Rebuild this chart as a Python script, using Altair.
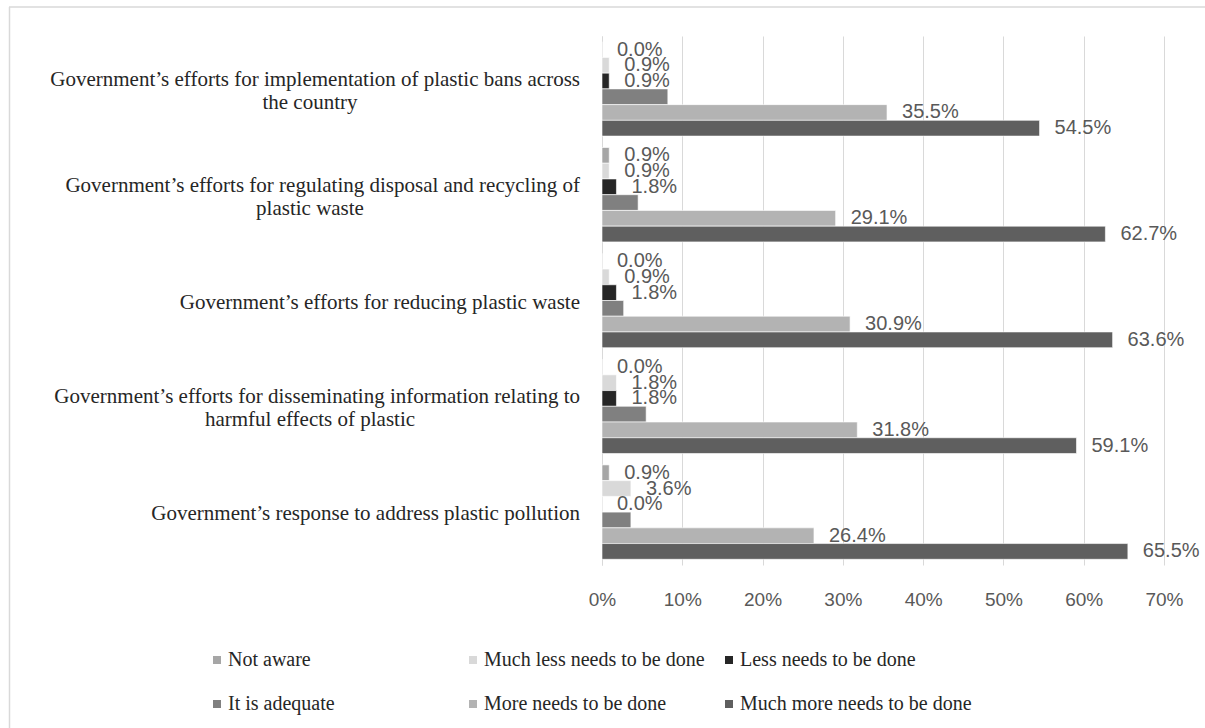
import altair as alt
import pandas as pd

questions = [
    "Government’s efforts for implementation of plastic bans across the country",
    "Government’s efforts for regulating disposal and recycling of plastic waste",
    "Government’s efforts for reducing plastic waste",
    "Government’s efforts for disseminating information relating to harmful effects of plastic",
    "Government’s response to address plastic pollution",
]
question_line1 = [
    "Government’s efforts for implementation of plastic bans across",
    "Government’s efforts for regulating disposal and recycling of",
    "Government’s efforts for reducing plastic waste",
    "Government’s efforts for disseminating information relating to",
    "Government’s response to address plastic pollution",
]
question_line2 = ["the country", "plastic waste", "", "harmful effects of plastic", ""]

responses = [
    "Not aware",
    "Much less needs to be done",
    "Less needs to be done",
    "It is adequate",
    "More needs to be done",
    "Much more needs to be done",
]
colors = ["#A6A6A6", "#D9D9D9", "#262626", "#808080", "#B3B3B3", "#5F5F5F"]

# percentages per question (same order as questions)
not_aware = [0.0, 0.9, 0.0, 0.0, 0.9]
much_less = [0.9, 0.9, 0.9, 1.8, 3.6]
less_needed = [0.9, 1.8, 1.8, 1.8, 0.0]
adequate = [8.2, 4.5, 2.7, 5.5, 3.6]
more_needed = [35.5, 29.1, 30.9, 31.8, 26.4]
much_more = [54.5, 62.7, 63.6, 59.1, 65.5]
series = [not_aware, much_less, less_needed, adequate, more_needed, much_more]
labelled = [True, True, True, False, True, True]

rows = []
for qi, q in enumerate(questions):
    for ri, r in enumerate(responses):
        v = series[ri][qi] / 100.0
        rows.append({
            "question": q,
            "response": r,
            "value": v,
            "label": f"{series[ri][qi]:.1f}%" if labelled[ri] else "",
        })
df = pd.DataFrame(rows)

qdf = pd.DataFrame({"question": questions, "line1": question_line1, "line2": question_line2})

GRID = "#D9D9D9"
SERIF = "Liberation Serif"
SANS = "Liberation Sans"
QSIZE = 21

y = alt.Y(
    "question:N",
    sort=questions,
    scale=alt.Scale(paddingInner=0.108, paddingOuter=0.054),
    axis=alt.Axis(labels=False, ticks=False, domain=True, domainColor=GRID,
                  grid=False, title=None),
)
yoff = alt.YOffset("response:N", sort=responses,
                   scale=alt.Scale(paddingInner=0, paddingOuter=0))
x = alt.X(
    "value:Q",
    scale=alt.Scale(domain=[0, 0.7], nice=False),
    axis=alt.Axis(values=[0, 0.1, 0.2, 0.3, 0.4, 0.5, 0.6, 0.7], format=".0%",
                  grid=True, gridColor=GRID, domain=False, ticks=False,
                  labelFont=SANS, labelFontSize=19, labelColor="#595959",
                  labelPadding=25, labelFlush=False, title=None),
)

bars = alt.Chart(df).mark_bar(stroke="white", strokeWidth=0.6).encode(
    y=y,
    yOffset=yoff,
    x=x,
    color=alt.Color(
        "response:N",
        sort=responses,
        scale=alt.Scale(domain=responses, range=colors),
        legend=alt.Legend(
            orient="none", legendX=-395, legendY=614, columns=3,
            direction="horizontal", title=None, symbolType="square",
            symbolSize=64, symbolStrokeWidth=0, labelFont=SERIF,
            labelFontSize=20, labelColor="#262626", columnPadding=3,
            rowPadding=24, gridAlign="all", labelOffset=1, padding=0,
            labelLimit=400,
        ),
    ),
)

value_labels = alt.Chart(df).transform_filter("datum.label != ''").mark_text(
    align="left", baseline="middle", dx=15, font=SANS, fontSize=20, color="#595959"
).encode(y=y, yOffset=yoff, x=alt.X("value:Q"), text="label:N")

single = alt.Chart(qdf).transform_filter("datum.line2 == ''").mark_text(
    align="right", baseline="middle", dy=2, font=SERIF, fontSize=QSIZE, color="#262626"
).encode(y=y, x=alt.value(-22), text="line1:N")

multi1 = alt.Chart(qdf).transform_filter("datum.line2 != ''").mark_text(
    align="right", baseline="middle", dy=-9, font=SERIF, fontSize=QSIZE, color="#262626"
).encode(y=y, x=alt.value(-22), text="line1:N")

multi2 = alt.Chart(qdf).transform_filter("datum.line2 != ''").mark_text(
    align="center", baseline="middle", dy=14, font=SERIF, fontSize=QSIZE, color="#262626"
).encode(y=y, x=alt.value(-292), text="line2:N")

frame = pd.DataFrame({"k": [0]})
frame_left = alt.Chart(frame).mark_rule(color=GRID, strokeWidth=1.5).encode(
    x=alt.value(-592.5), y=alt.value(-29), y2=alt.value(692))
frame_top = alt.Chart(frame).mark_rule(color=GRID, strokeWidth=1.5).encode(
    x=alt.value(-593), x2=alt.value(603), y=alt.value(-29))

chart = alt.layer(bars, value_labels, single, multi1, multi2, frame_left, frame_top).properties(
    width=562,
    height=529,
    autosize=alt.AutoSizeParams(type="none"),
    padding={"left": 602, "top": 36, "right": 41, "bottom": 163},
    background="white",
).configure_view(stroke=None)

chart.save("out.html", embed_options={"renderer": "svg", "actions": False})
